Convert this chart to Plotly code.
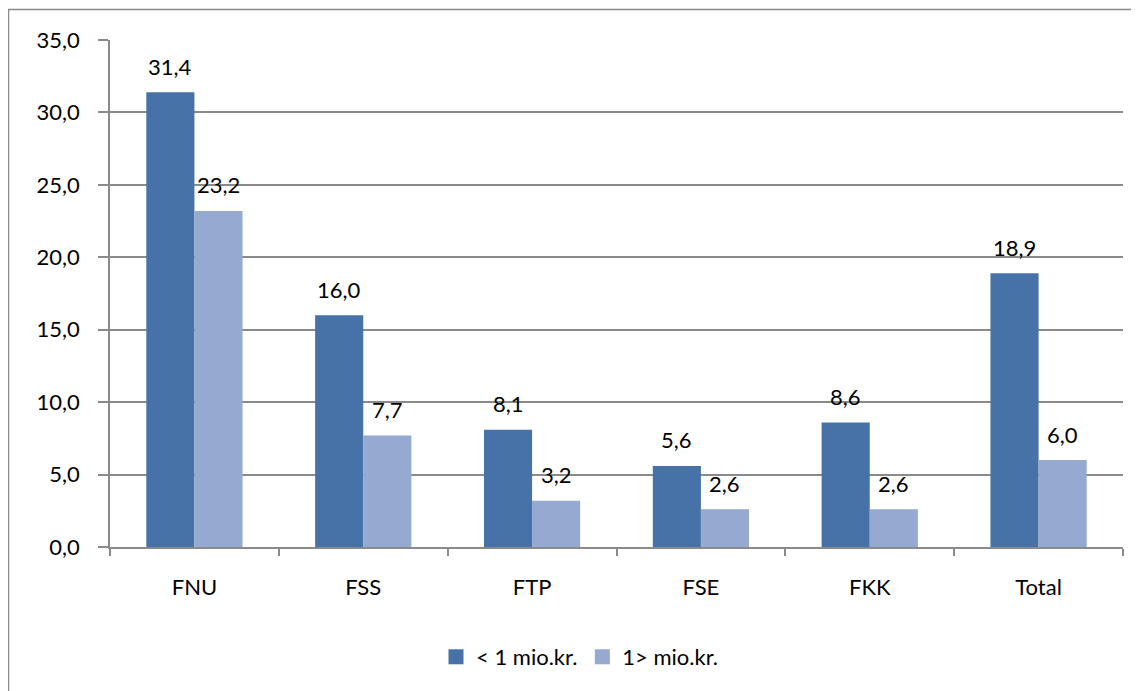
import plotly.graph_objects as go

categories = ["FNU", "FSS", "FTP", "FSE", "FKK", "Total"]
series_names = ["< 1 mio.kr.", "1> mio.kr."]
below_1mio = [31.4, 16.0, 8.1, 5.6, 8.6, 18.9]
above_1mio = [23.2, 7.7, 3.2, 2.6, 2.6, 6.0]
y_ticks = [0, 5, 10, 15, 20, 25, 30, 35]

colors = ["#4672A7", "#95A9D1"]
FONT = "Lato"
W, H = 1139, 691
# page is rendered with an 8px body margin, so figure coords = page coords - 8
ML, MR, MT, MB = 102, 24, 32, 152

fig = go.Figure()
for name, vals, col in zip(series_names, [below_1mio, above_1mio], colors):
    fig.add_trace(go.Bar(x=categories, y=vals, name=name, showlegend=False,
                         marker=dict(color=col, line=dict(width=0))))
# legend entries with larger square symbols
for name, col in zip(series_names, colors):
    fig.add_trace(go.Scatter(x=[None], y=[None], mode="markers", name=name,
                             marker=dict(symbol="square", size=15, color=col)))

# data labels
bar_off = 0.142
for k, vals in enumerate([below_1mio, above_1mio]):
    off = -bar_off if k == 0 else bar_off
    for i, v in enumerate(vals):
        fig.add_annotation(x=i + off, y=v, text=f"{v:.1f}".replace(".", ","),
                           showarrow=False, yanchor="middle", xanchor="center",
                           yshift=26, font=dict(family=FONT, size=22, color="#000000"))

pw = W - ML - MR
ph = H - MT - MB
fig.add_shape(type="rect", xref="paper", yref="paper",
              x0=(0.5 - ML) / pw, x1=(W + 20 - ML) / pw,
              y0=(MT + ph - (H + 20)) / ph, y1=(MT + ph - 1.5) / ph,
              line=dict(color="#8a8a8a", width=1.5), fillcolor="rgba(0,0,0,0)", layer="below")

fig.update_layout(
    width=W, height=H,
    margin=dict(l=ML, r=MR, t=MT, b=MB),
    paper_bgcolor="white", plot_bgcolor="white",
    barmode="group", bargap=0.43, bargroupgap=0,
    separators=",.",
    font=dict(family=FONT, size=22, color="#000000"),
    legend=dict(orientation="h", x=(572 - ML) / pw, xanchor="center",
                y=(MT + ph - 649) / ph, yanchor="middle",
                font=dict(family=FONT, size=22, color="#000000"),
                itemwidth=30, traceorder="normal"),
    showlegend=True,
)
fig.update_xaxes(type="category", tickson="boundaries", ticks="outside", ticklen=7,
                 tickcolor="#8a8a8a", tickwidth=1.5, showline=True, linecolor="#8a8a8a",
                 linewidth=1.5, showgrid=False, ticklabelstandoff=20,
                 tickfont=dict(family=FONT, size=22, color="#000000"))
fig.update_yaxes(range=[0, 35], tickvals=y_ticks, tickformat=".1f", ticks="outside",
                 ticklen=10, tickcolor="#8a8a8a", tickwidth=1.5, showline=True,
                 linecolor="#8a8a8a", linewidth=1.5, showgrid=True, gridcolor="#8a8a8a",
                 gridwidth=1.5, zeroline=False, ticklabelstandoff=14,
                 tickfont=dict(family=FONT, size=22, color="#000000"))

fig.write_html("out.html")
